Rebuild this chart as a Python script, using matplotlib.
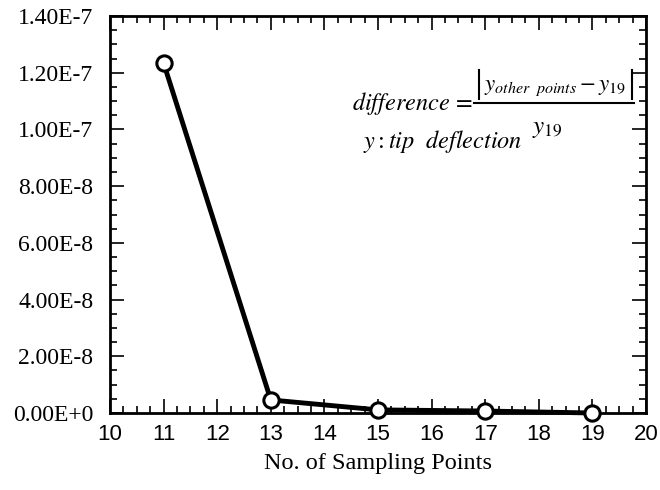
import matplotlib
matplotlib.use("Agg")
import matplotlib.pyplot as plt
from matplotlib.lines import Line2D
from matplotlib.ticker import MultipleLocator, FuncFormatter

# data
points = [11, 13, 15, 17, 19]
diff = [1.234e-7, 4.6e-9, 1.1e-9, 0.7e-9, 0.0]

plt.rcParams['mathtext.fontset'] = 'stix'

W, H = 660, 490
fig = plt.figure(figsize=(6.6, 4.9), dpi=100)
ax = fig.add_axes([110/W, 77/H, 536/W, 397/H])

ax.plot(points, diff, color='black', lw=3.5, marker='o', ms=11,
        mfc='white', mec='black', mew=2.2, zorder=3, clip_on=False)

ax.set_xlim(10, 20)
ax.set_ylim(0, 1.4e-7)
ax.xaxis.set_major_locator(MultipleLocator(1))
ax.xaxis.set_minor_locator(MultipleLocator(0.25))
ax.yaxis.set_major_locator(MultipleLocator(2e-8))
ax.yaxis.set_minor_locator(MultipleLocator(5e-9))

def yfmt(v, pos):
    if v == 0:
        return '0.00E+0'
    s = '%.2E' % v
    m, e = s.split('E')
    return m + 'E' + str(int(e))

ax.yaxis.set_major_formatter(FuncFormatter(yfmt))
ax.tick_params(which='both', direction='in', top=True, right=True, width=1.2)
ax.tick_params(which='major', length=10)
ax.tick_params(which='minor', length=5)
for lab in ax.get_yticklabels():
    lab.set_family('Liberation Serif')
    lab.set_fontsize(17)
for lab in ax.get_xticklabels():
    lab.set_family('Liberation Sans')
    lab.set_fontsize(16)
ax.tick_params(axis='x', pad=8)
ax.tick_params(axis='y', pad=12)
for sp in ax.spines.values():
    sp.set_linewidth(2)

ax.set_xlabel('No. of Sampling Points', family='Liberation Serif', fontsize=17.5, labelpad=6)

# formula box, built from pieces (pixel positions)
def px(x, y):
    return x / W, 1 - y / H

def seg(x0, y0, x1, y1, lw):
    fig.add_artist(Line2D([x0/W, x1/W], [1 - y0/H, 1 - y1/H], color='black',
                          lw=lw, transform=fig.transFigure))

fig.text(*px(352, 110), r'$difference\,=$', fontsize=17.5, va='baseline', ha='left')
fig.text(*px(484, 90), r'$y_{other\ \ points}-y_{19}$', fontsize=16.5,
         va='baseline', ha='left')
seg(479, 70, 479, 99, 1.5)
seg(632, 70, 632, 99, 1.5)
seg(474, 103, 634, 103, 1.5)
fig.text(*px(532, 133), r'$y_{19}$', fontsize=18, va='baseline', ha='left')
fig.text(*px(363, 148), r'$y:tip\ \ deflection$', fontsize=17.5, va='baseline', ha='left')

fig.savefig('out.png', dpi=100)
